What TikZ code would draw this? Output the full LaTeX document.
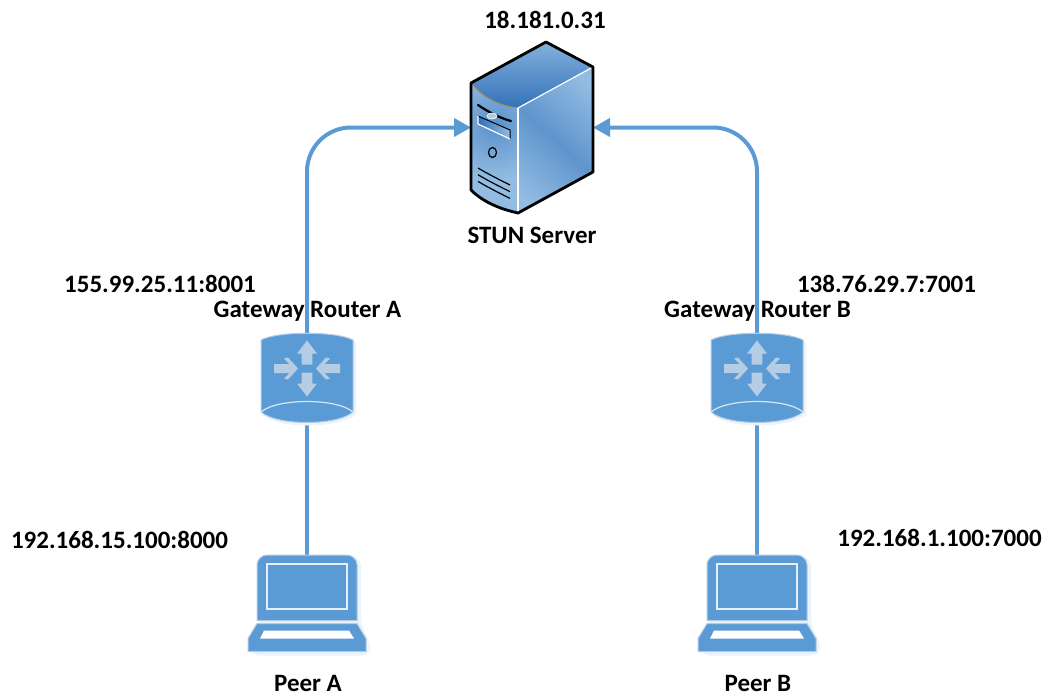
\documentclass[tikz,border=0pt]{standalone}
\usepackage{fontspec}
\setmainfont{Carlito}
\usetikzlibrary{arrows.meta,shadings}
\definecolor{iconblue}{HTML}{5B9BD5}
\definecolor{iconpale}{HTML}{B4CCE4}
\definecolor{iconshadow}{HTML}{EDF3FA}
\definecolor{srvlight}{HTML}{92BCE2}
\definecolor{srvmid}{HTML}{5F95CC}
\definecolor{srvdark}{HTML}{2F6FB5}
\definecolor{srvtan}{HTML}{A08A68}
\tikzset{
  anchorbox/.style={inner sep=0pt,outer sep=0pt,draw=none,fill=none},
  link/.style={draw=iconblue,line width=4pt},
  arrowlink/.style={link,rounded corners=44pt,-{Triangle[length=17pt,width=18pt]}},
  label/.style={font=\fontsize{25}{27}\selectfont\bfseries,inner sep=0pt,text=black},
  routericon/.pic={
    \fill[iconshadow] (-44,-36) .. controls (-30,-45) and (30,-45) .. (49,-36)
      -- (49,37) .. controls (30,51) and (-30,51) .. (-44,37) -- cycle;
    \path[fill=iconblue,draw=iconpale,line width=1pt]
      (-46,-38) .. controls (-30,-47) and (30,-47) .. (46,-38)
      -- (46,34) .. controls (30,48) and (-30,48) .. (-46,34) -- cycle;
    \draw[white!75!iconblue,line width=1.2pt] (-46,34) .. controls (-30,20) and (30,20) .. (46,34);
    \begin{scope}[shift={(0,-9.5)}]
      \foreach \r in {0,180}{
        \fill[iconpale,rotate=\r] (0,-28) -- (10,-15) -- (5.3,-15) -- (5.3,-4) -- (-5.3,-4) -- (-5.3,-15) -- (-10,-15) -- cycle;
      }
      \foreach \s in {1,-1}{
        \fill[iconpale,xscale=\s] (-33,-4.5) -- (-17.5,-4.5) -- (-23,-10) -- (-19,-11) -- (-9,0)
          -- (-19,11) -- (-23,10) -- (-17.5,4.5) -- (-33,4.5) -- cycle;
      }
    \end{scope}
  },
  laptopicon/.pic={
    \fill[iconshadow,rounded corners=8pt] (-48,-46) -- (54,-46) -- (54,22) -- (63,38) -- (63,52) -- (-56,52) -- (-56,38) -- (-48,22) -- cycle;
    \path[fill=iconblue,draw=iconpale,line width=1pt]
      (-50,17) -- (-50,-39) .. controls (-50,-44) and (-45,-48.5) .. (-40,-48.5) -- (40,-48.5)
      .. controls (45,-48.5) and (50,-44) .. (50,-39) -- (50,17) -- cycle;
    \draw[white!85!iconblue,line width=1.2pt] (-40,-39.5) rectangle (40,5.5);
    \path[fill=iconblue,draw=iconpale,line width=1pt]
      (-50,20) -- (50,20) -- (59,35) -- (59,48) -- (-59,48) -- (-59,35) -- cycle;
    \fill[white] (-43,27) -- (42,27) -- (47,35) -- (-47,35) -- cycle;
  }
}
\begin{document}
\begin{tikzpicture}[x=1pt,y=-1pt]
\useasboundingbox (0,0) rectangle (1051,696);
% anchor boxes of the icons
\node[anchorbox,minimum width=122pt,minimum height=171pt] (server) at (532,127.5) {};
\node[anchorbox,minimum width=92pt,minimum height=90pt] (routerA) at (307,378) {};
\node[anchorbox,minimum width=92pt,minimum height=90pt] (routerB) at (757,378) {};
\node[anchorbox,minimum width=118pt,minimum height=97pt] (peerA) at (307,603.5) {};
\node[anchorbox,minimum width=118pt,minimum height=97pt] (peerB) at (757,603.5) {};
% connectors
\draw[arrowlink] (routerA.north) |- (server.west);
\draw[arrowlink] (routerB.north) |- (server.east);
\draw[link] (routerA.south) -- (peerA.north);
\draw[link] (routerB.south) -- (peerB.north);
% routers and laptops
\pic at (routerA.center) {routericon};
\pic at (routerB.center) {routericon};
\pic at (peerA.center) {laptopicon};
\pic at (peerB.center) {laptopicon};
% server: top face
\begin{scope}
  \clip (471,83) -- (546,42) -- (593,67) -- (518,108) .. controls (500,106) and (483,98) .. (471,83) -- cycle;
  \shade[shading=axis,shading angle=0,bottom color=srvdark,top color=srvlight,middle color=srvmid]
    (460,30) rectangle (600,112);
\end{scope}
% server: right face
\begin{scope}
  \clip (518,108) -- (593,67) -- (593,172) -- (518,213) -- cycle;
  \shade[shading=axis,left color=srvlight,right color=srvlight,middle color=srvmid,shading angle=-42]
    (510,60) rectangle (600,220);
\end{scope}
% server: front face
\begin{scope}
  \clip (471,83) .. controls (483,98) and (500,106) .. (518,108) -- (518,213)
     .. controls (500,209) and (483,202) .. (471,190) -- cycle;
  \fill[srvlight] (465,75) rectangle (525,220);
  \shade[inner color=srvmid!90!srvdark,outer color=srvlight] (495,125) circle[radius=55];
\end{scope}
% server: details
\draw[srvtan,line width=1pt] (471,83) .. controls (483,98) and (500,106) .. (518,108);
\draw[white,line width=1.2pt] (518,108) -- (593,67);
\draw[white,line width=1.2pt] (518,108) -- (518,213);
\draw[black,line width=2.2pt,line cap=round] (478,105) .. controls (490,113) and (500,118) .. (511,121);
\fill[iconpale,draw=white,line width=.6pt] (492,116) ellipse (5 and 3);
\shade[left color=srvdark,right color=srvlight] (478,116) -- (510,130) -- (510,139) -- (478,124) -- cycle;
\draw[black,line width=1pt] (478,116) -- (510,130) -- (510,139);
\draw[white,line width=1.2pt] (478,116) -- (478,124) -- (510,139);
\draw[black,line width=1.2pt] (492.5,152.5) ellipse (4 and 5);
\foreach \d in {0,6.7,13.4}{
  \draw[black,line width=1.2pt] (478,168+\d) .. controls (488,174+\d) and (500,180+\d) .. (510,185+\d);
}
\draw[black,line width=2.8pt,line join=round]
  (471,83) -- (546,42) -- (593,67) -- (593,172) -- (518,213)
  .. controls (500,209) and (483,202) .. (471,190) -- cycle;
% labels
\node[label] (ipS) at (545,20) {18.181.0.31};
\node[label] (nameS) at (532,235) {STUN Server};
\node[label] (ipGA) at (160,284) {155.99.25.11:8001};
\node[label] (nameGA) at (307.5,311) {Gateway Router A};
\node[label] (ipGB) at (886.5,284) {138.76.29.7:7001};
\node[label] (nameGB) at (757.5,311) {Gateway Router B};
\node[label] (ipA) at (119.5,540) {192.168.15.100:8000};
\node[label] (ipB) at (939.5,538) {192.168.1.100:7000};
\node[label] (nameA) at (308,683) {Peer A};
\node[label] (nameB) at (758,683) {Peer B};
\end{tikzpicture}
\end{document}
